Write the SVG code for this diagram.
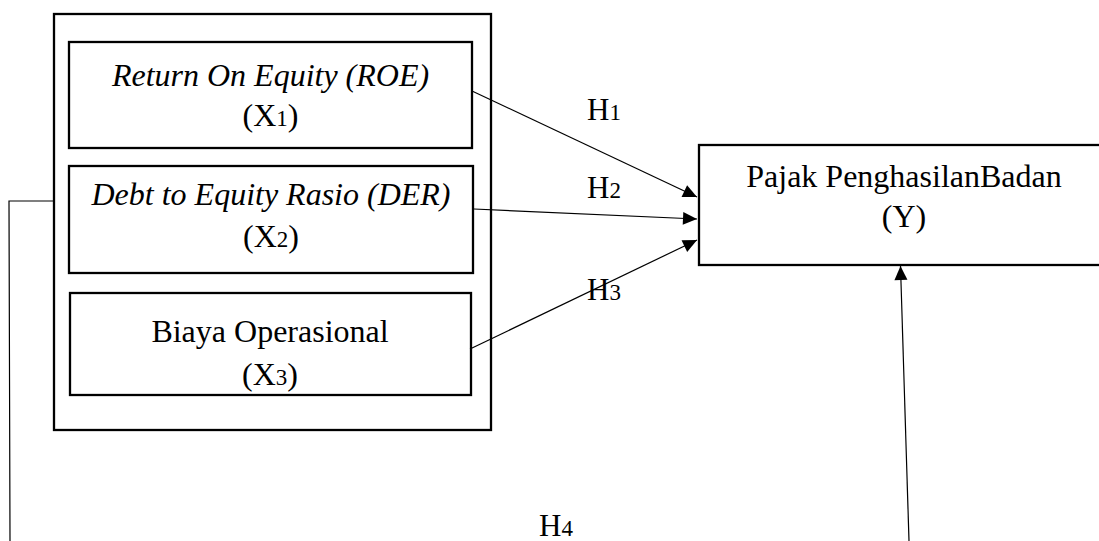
<svg xmlns="http://www.w3.org/2000/svg" width="1099" height="541" viewBox="0 0 1099 541">
<style>
.box{fill:#fff;stroke:#000;stroke-width:2.3}
.t{font-family:"Liberation Serif","Times New Roman",serif;font-size:32px;fill:#000;text-anchor:middle}
.i{font-style:italic}
.s{font-size:23px}
.h{font-family:"Liberation Serif","Times New Roman",serif;font-size:31px;fill:#000}
.c{fill:none;stroke:#000;stroke-width:1.2}
</style>
<defs>
<marker id="arr" markerUnits="userSpaceOnUse" markerWidth="16" markerHeight="16" viewBox="0 0 16 16" refX="15" refY="8" orient="auto">
<path d="M1,1.5 L15,8 L1,14.5 Z" fill="#000"/>
</marker>
</defs>
<g id="outer"><rect class="box" x="54" y="14" width="437" height="416"/></g>
<g id="x1">
<rect class="box" x="69" y="42" width="403" height="106"/>
<text class="t i" x="270.5" y="86">Return On Equity (ROE)</text>
<text class="t" x="270.5" y="126">(X<tspan class="s">1</tspan>)</text>
</g>
<g id="x2">
<rect class="box" x="69" y="166" width="404" height="107"/>
<text class="t i" x="271" y="205">Debt to Equity Rasio (DER)</text>
<text class="t" x="271" y="247">(X<tspan class="s">2</tspan>)</text>
</g>
<g id="x3">
<rect class="box" x="70" y="293" width="401" height="102"/>
<text class="t" x="270" y="342">Biaya Operasional</text>
<text class="t" x="270" y="385">(X<tspan class="s">3</tspan>)</text>
</g>
<g id="y">
<rect class="box" x="699" y="145" width="420" height="120"/>
<text class="t" x="904" y="187">Pajak PenghasilanBadan</text>
<text class="t" x="904" y="227">(Y)</text>
</g>
<g id="connectors">
<line class="c" x1="472" y1="91" x2="697" y2="197" marker-end="url(#arr)"/>
<line class="c" x1="474" y1="209" x2="697" y2="219" marker-end="url(#arr)"/>
<line class="c" x1="470" y1="349" x2="697" y2="240" marker-end="url(#arr)"/>
<polyline class="c" points="54,201 9,201 10,541"/>
<line class="c" x1="909" y1="541" x2="900.5" y2="266" marker-end="url(#arr)"/>
</g>
<g id="labels">
<text class="h" x="587" y="120">H<tspan class="s">1</tspan></text>
<text class="h" x="587" y="198">H<tspan class="s">2</tspan></text>
<text class="h" x="587" y="300">H<tspan class="s">3</tspan></text>
<text class="h" x="539" y="536">H<tspan class="s">4</tspan></text>
</g>
</svg>
